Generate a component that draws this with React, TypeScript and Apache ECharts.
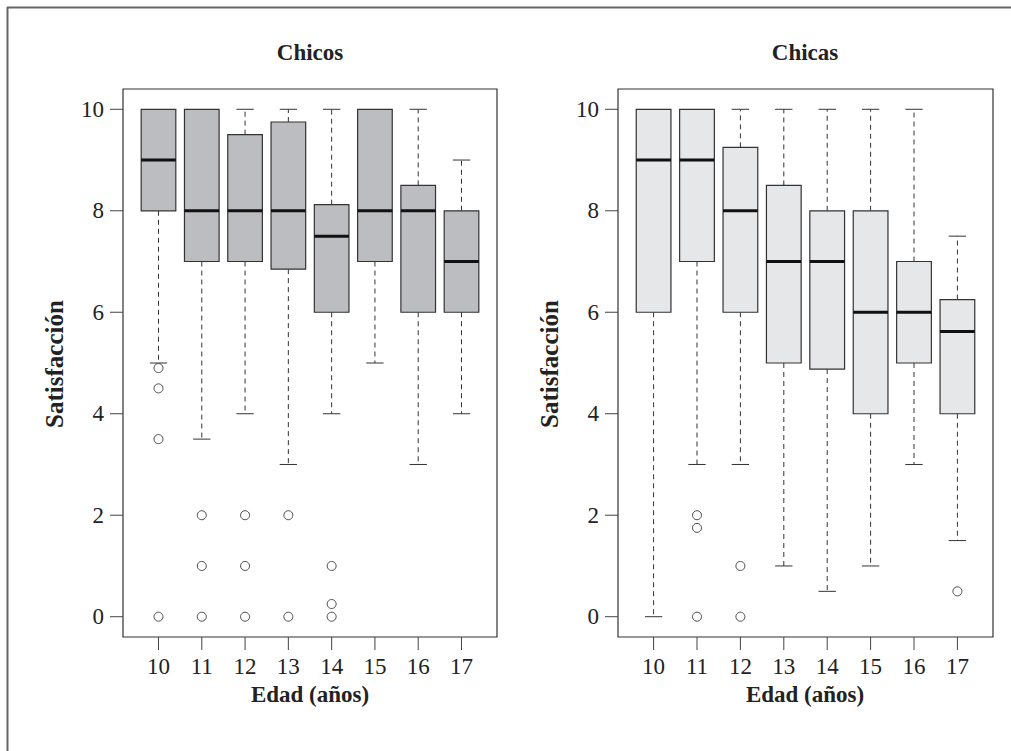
import React, { useEffect, useRef } from "react";
import * as echarts from "echarts";

const ages = ["10", "11", "12", "13", "14", "15", "16", "17"];
const yTicks = [0, 2, 4, 6, 8, 10];

// Chicos
const boysLow = [5, 3.5, 4, 3, 4, 5, 3, 4];
const boysQ1 = [8, 7, 7, 6.85, 6, 7, 6, 6];
const boysMedian = [9, 8, 8, 8, 7.5, 8, 8, 7];
const boysQ3 = [10, 10, 9.5, 9.75, 8.12, 10, 8.5, 8];
const boysHigh = [10, 10, 10, 10, 10, 10, 10, 9];
const boysOutlierAge = ["10", "10", "10", "10", "11", "11", "11", "12", "12", "12", "13", "13", "14", "14", "14"];
const boysOutlierValue = [4.9, 4.5, 3.5, 0, 2, 1, 0, 2, 1, 0, 2, 0, 1, 0.25, 0];

// Chicas
const girlsLow = [0, 3, 3, 1, 0.5, 1, 3, 1.5];
const girlsQ1 = [6, 7, 6, 5, 4.88, 4, 5, 4];
const girlsMedian = [9, 9, 8, 7, 7, 6, 6, 5.62];
const girlsQ3 = [10, 10, 9.25, 8.5, 8, 8, 7, 6.25];
const girlsHigh = [10, 10, 10, 10, 10, 10, 10, 7.5];
const girlsOutlierAge = ["11", "11", "11", "12", "12", "17"];
const girlsOutlierValue = [2, 1.75, 0, 1, 0, 0.5];

// plotting-region limits (R style: 4% extension)
const X_LO = 0.18;
const X_HI = 8.82;
const Y_LO = -0.4;
const Y_HI = 10.4;

const FONT = '"Liberation Serif", "Times New Roman", serif';
const TEXT = "#222";
const TICK_LEN = 13;
const TICK_STYLE = { stroke: "#444", lineWidth: 1 };

function boxData(lo: number[], q1: number[], md: number[], q3: number[], hi: number[]) {
  return ages.map((_, i) => [i + 1, lo[i], q1[i], md[i], q3[i], hi[i]]);
}
function outlierData(a: string[], v: number[]) {
  return a.map((age, i) => [ages.indexOf(age) + 1, v[i]]);
}

function makeRenderItem(fill: string) {
  return (params: any, api: any) => {
    const x = api.value(0);
    const lo = api.value(1);
    const q1 = api.value(2);
    const md = api.value(3);
    const q3 = api.value(4);
    const hi = api.value(5);
    const cx = api.coord([x, md])[0];
    const xl = api.coord([x - 0.4, md])[0];
    const xr = api.coord([x + 0.4, md])[0];
    const sl = api.coord([x - 0.2, md])[0];
    const sr = api.coord([x + 0.2, md])[0];
    const yLo = api.coord([x, lo])[1];
    const yQ1 = api.coord([x, q1])[1];
    const yMd = api.coord([x, md])[1];
    const yQ3 = api.coord([x, q3])[1];
    const yHi = api.coord([x, hi])[1];
    const bottom = api.coord([x, Y_LO])[1];
    const whisk = { stroke: "#333", lineWidth: 1, lineDash: [5, 4] };
    const staple = { stroke: "#333", lineWidth: 1 };
    const children: any[] = [
      { type: "line", shape: { x1: cx, y1: bottom, x2: cx, y2: bottom + TICK_LEN }, style: TICK_STYLE },
    ];
    if (yHi < yQ3) {
      children.push({ type: "line", shape: { x1: cx, y1: yQ3, x2: cx, y2: yHi }, style: whisk });
      children.push({ type: "line", shape: { x1: sl, y1: yHi, x2: sr, y2: yHi }, style: staple });
    }
    if (yLo > yQ1) {
      children.push({ type: "line", shape: { x1: cx, y1: yQ1, x2: cx, y2: yLo }, style: whisk });
      children.push({ type: "line", shape: { x1: sl, y1: yLo, x2: sr, y2: yLo }, style: staple });
    }
    children.push({
      type: "rect",
      shape: { x: xl, y: yQ3, width: xr - xl, height: yQ1 - yQ3 },
      style: { fill, stroke: "#333", lineWidth: 1.2 },
    });
    children.push({
      type: "line",
      shape: { x1: xl, y1: yMd, x2: xr, y2: yMd },
      style: { stroke: "#111", lineWidth: 3 },
    });
    return { type: "group", children };
  };
}

function yTickRenderItem(params: any, api: any) {
  const p = api.coord([X_LO, api.value(0)]);
  return {
    type: "line",
    shape: { x1: p[0] - TICK_LEN, y1: p[1], x2: p[0], y2: p[1] },
    style: TICK_STYLE,
  };
}

function frameRenderItem(params: any, api: any) {
  const a = api.coord([api.value(0), api.value(3)]);
  const b = api.coord([api.value(2), api.value(1)]);
  return {
    type: "rect",
    shape: { x: a[0], y: a[1], width: b[0] - a[0], height: b[1] - a[1] },
    style: { fill: "none", stroke: "#333", lineWidth: 1.2 },
  };
}

export default function App() {
  const ref = useRef<HTMLDivElement>(null);
  useEffect(() => {
    if (!ref.current) return;
    const chart = echarts.init(ref.current, undefined, { renderer: "svg" });
    // plot boxes (frame) in pixels
    const boxes = [
      { left: 123, top: 89, width: 374, height: 548 },
      { left: 618, top: 89, width: 375, height: 548 },
    ];
    // grids enlarged to hold the outward ticks
    const grids = boxes.map((b) => ({
      left: b.left - TICK_LEN,
      top: b.top,
      width: b.width + TICK_LEN,
      height: b.height + TICK_LEN,
    }));
    const xAxis = boxes.map((b, gi) => ({
      type: "value" as const,
      gridIndex: gi,
      position: "bottom" as const,
      min: X_LO - (TICK_LEN * (X_HI - X_LO)) / b.width,
      max: X_HI,
      axisLine: { show: false, onZero: false },
      splitLine: { show: false },
      axisTick: { show: false },
      axisLabel: {
        show: true,
        customValues: [1, 2, 3, 4, 5, 6, 7, 8],
        formatter: (v: number) => ages[Math.round(v) - 1] ?? "",
        margin: 5,
        fontFamily: FONT,
        fontSize: 23,
        color: TEXT,
      },
    }));
    const yAxis = boxes.map((b, gi) => ({
      type: "value" as const,
      gridIndex: gi,
      position: "left" as const,
      min: Y_LO - (TICK_LEN * (Y_HI - Y_LO)) / b.height,
      max: Y_HI,
      axisLine: { show: false, onZero: false },
      splitLine: { show: false },
      axisTick: { show: false },
      axisLabel: {
        show: true,
        customValues: yTicks,
        margin: 6,
        fontFamily: FONT,
        fontSize: 23,
        color: TEXT,
      },
    }));
    const centers = [310, 805];
    const ylabX = [54, 549];
    const titles = ["Chicos", "Chicas"];
    const graphic: any[] = [
      { type: "line", shape: { x1: 7, y1: 7.5, x2: 1011, y2: 7.5 }, style: { stroke: "#666", lineWidth: 2 } },
      { type: "line", shape: { x1: 7.5, y1: 7, x2: 7.5, y2: 751 }, style: { stroke: "#666", lineWidth: 2 } },
    ];
    for (let i = 0; i < 2; i++) {
      graphic.push({
        type: "text",
        x: centers[i],
        y: 52,
        style: { text: titles[i], font: `bold 23px ${FONT}`, textAlign: "center", textVerticalAlign: "middle", fill: TEXT },
      });
      graphic.push({
        type: "text",
        x: centers[i],
        y: 694,
        style: { text: "Edad (años)", font: `bold 23px ${FONT}`, textAlign: "center", textVerticalAlign: "middle", fill: TEXT },
      });
      graphic.push({
        type: "text",
        x: ylabX[i],
        y: 364,
        rotation: Math.PI / 2,
        style: { text: "Satisfacción", font: `bold 25px ${FONT}`, textAlign: "center", textVerticalAlign: "middle", fill: TEXT },
      });
    }
    const helperSeries: any[] = [];
    [0, 1].forEach((gi) => {
      helperSeries.push({
        type: "custom",
        xAxisIndex: gi,
        yAxisIndex: gi,
        renderItem: frameRenderItem,
        data: [[X_LO, Y_LO, X_HI, Y_HI]],
        encode: { x: [0, 2], y: [1, 3] },
        silent: true,
        z: 1,
      });
      helperSeries.push({
        type: "custom",
        xAxisIndex: gi,
        yAxisIndex: gi,
        renderItem: yTickRenderItem,
        data: yTicks.map((v) => [v]),
        encode: { y: 0 },
        silent: true,
        z: 1,
      });
    });
    chart.setOption({
      animation: false,
      backgroundColor: "#fff",
      grid: grids.map((g) => ({ ...g, show: false })),
      xAxis,
      yAxis,
      graphic,
      series: [
        ...helperSeries,
        {
          type: "custom",
          xAxisIndex: 0,
          yAxisIndex: 0,
          renderItem: makeRenderItem("#bcbdc1"),
          data: boxData(boysLow, boysQ1, boysMedian, boysQ3, boysHigh),
          encode: { x: 0, y: [1, 2, 3, 4, 5] },
          silent: true,
          z: 2,
        },
        {
          type: "custom",
          xAxisIndex: 1,
          yAxisIndex: 1,
          renderItem: makeRenderItem("#e6e7e9"),
          data: boxData(girlsLow, girlsQ1, girlsMedian, girlsQ3, girlsHigh),
          encode: { x: 0, y: [1, 2, 3, 4, 5] },
          silent: true,
          z: 2,
        },
        {
          type: "scatter",
          xAxisIndex: 0,
          yAxisIndex: 0,
          symbol: "circle",
          symbolSize: 9,
          itemStyle: { color: "#fff", borderColor: "#222", borderWidth: 1 },
          data: outlierData(boysOutlierAge, boysOutlierValue),
          silent: true,
          z: 3,
        },
        {
          type: "scatter",
          xAxisIndex: 1,
          yAxisIndex: 1,
          symbol: "circle",
          symbolSize: 9,
          itemStyle: { color: "#fff", borderColor: "#222", borderWidth: 1 },
          data: outlierData(girlsOutlierAge, girlsOutlierValue),
          silent: true,
          z: 3,
        },
      ],
    });
    return () => chart.dispose();
  }, []);
  return (
    <div
      ref={ref}
      style={{ position: "absolute", left: 0, top: 0, width: 1011, height: 751, background: "#fff" }}
    />
  );
}
